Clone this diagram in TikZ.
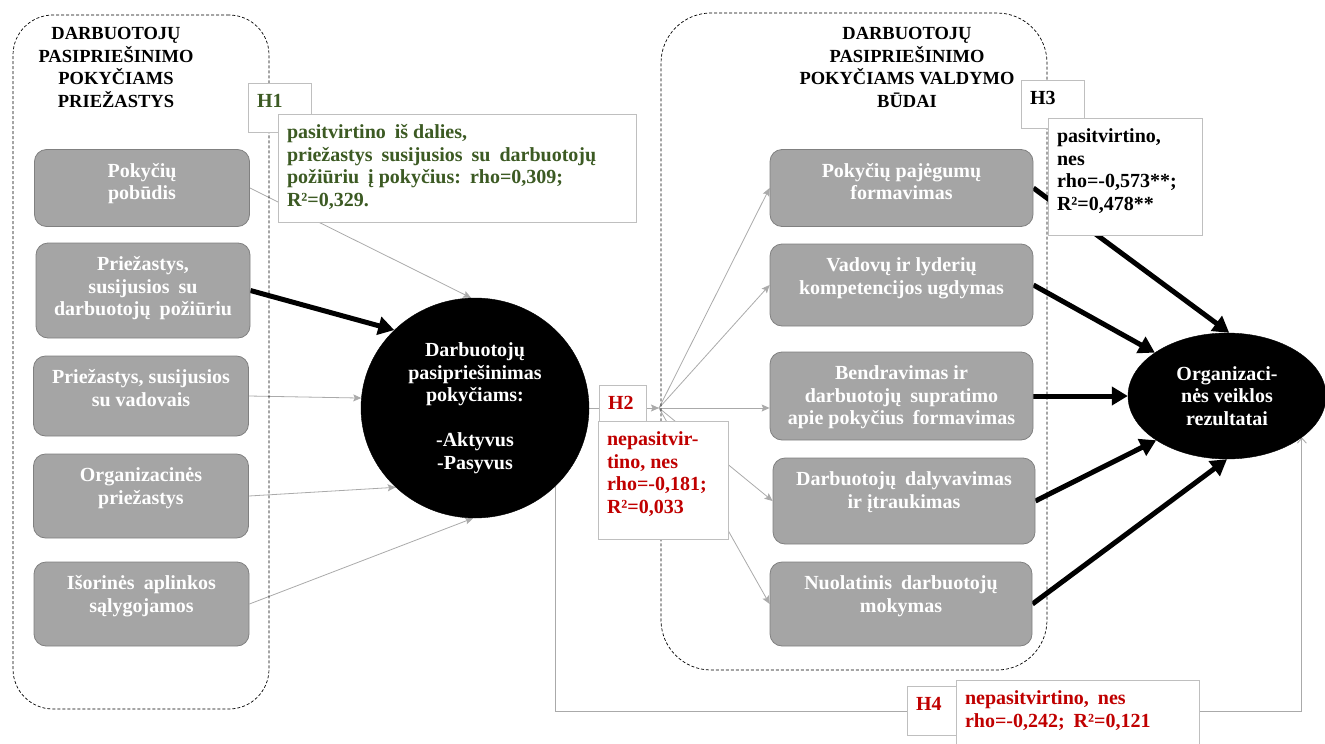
\documentclass[tikz,border=0pt]{standalone}
\usepackage{fontspec}
\setmainfont{Liberation Serif}
\usetikzlibrary{arrows.meta,shapes.geometric}

\pgfdeclarelayer{links}
\pgfsetlayers{links,main}

\definecolor{boxfill}{RGB}{165,165,165}
\definecolor{boxline}{RGB}{128,128,128}
\definecolor{conngray}{RGB}{170,170,170}
\definecolor{labline}{RGB}{191,191,191}
\definecolor{okgreen}{RGB}{60,90,35}
\definecolor{nored}{RGB}{192,0,0}

\newcommand\fsz{\fontsize{20pt}{22.5pt}\selectfont\bfseries}
\newcommand\tsz{\fontsize{18.5pt}{22.5pt}\selectfont\bfseries}

% centred lines, starting near the top of a gray box
\newcommand\boxlines[3]{\begin{minipage}[c][#2][t]{#1}\centering\vspace*{12pt}\strut#3\end{minipage}}
% left-aligned lines, starting near the top of a hypothesis label
\newcommand\lablines[3]{\begin{minipage}[c][#2][t]{#1}\raggedright\leftskip=9pt\vspace*{9pt}\strut#3\end{minipage}}
\newcommand\gap{\hspace{0.45em}}

\tikzset{
  zone/.style={draw=black, dashed, dash pattern=on 3pt off 2pt, line width=0.7pt, inner sep=0pt},
  heading/.style={font=\tsz, align=center, inner sep=0pt},
  gbox/.style={draw=boxline, fill=boxfill, line width=0.8pt, rounded corners=12pt, inner sep=0pt, text=white, font=\fsz},
  blob/.style={ellipse, fill=black, draw=black, inner sep=0pt, text=white, font=\fsz, align=center},
  lab/.style={draw=labline, fill=white, line width=0.9pt, inner sep=0pt, font=\fsz},
  feed/.style={draw=conngray, line width=0.8pt, -{Stealth[length=8pt,width=7pt,inset=1.5pt]}},
  strong/.style={draw=black, line width=5pt, -{Triangle[length=16pt,width=18pt]}},
  backlink/.style={draw=conngray, line width=0.9pt, -{Straight Barb[length=5pt,width=9pt]}},
}

\begin{document}
\begin{tikzpicture}[x=1pt,y=-1pt]
\useasboundingbox (0,0) rectangle (1325,744);

% dashed groups and their headings
\node[zone, rounded corners=40pt, minimum width=256pt, minimum height=694pt] (G1) at (141,362) {};
\node[zone, rounded corners=50pt, minimum width=386pt, minimum height=657pt] (G2) at (854,341.5) {};
\node[heading] (T1) at (116,67.5) {DARBUOTOJŲ\\PASIPRIEŠINIMO\\POKYČIAMS\\PRIEŽASTYS};
\node[heading] (T2) at (907,67.5) {DARBUOTOJŲ\\PASIPRIEŠINIMO\\POKYČIAMS VALDYMO\\BŪDAI};

% gray boxes: causes
\node[gbox, minimum width=215pt] (L1) at (142,188) {\boxlines{205pt}{77pt}{Pokyčių\\pobūdis}};
\node[gbox, minimum width=214pt] (L2) at (143,290.5) {\boxlines{205pt}{95pt}{Priežastys,\\susijusios\gap su\\darbuotojų\gap požiūriu}};
\node[gbox, minimum width=215pt] (L3) at (141,396) {\boxlines{205pt}{80pt}{Priežastys, susijusios\\su vadovais}};
\node[gbox, minimum width=215pt] (L4) at (141,496) {\boxlines{205pt}{84pt}{Organizacinės\\priežastys}};
\node[gbox, minimum width=215pt] (L5) at (141.5,604) {\boxlines{205pt}{84pt}{Išorinės\gap aplinkos\\sąlygojamos}};

% gray boxes: management methods
\node[gbox, minimum width=263pt] (R1) at (901.5,188) {\boxlines{253pt}{77pt}{Pokyčių pajėgumų\\formavimas}};
\node[gbox, minimum width=263pt] (R2) at (901.5,285) {\boxlines{253pt}{82pt}{Vadovų ir lyderių\\kompetencijos ugdymas}};
\node[gbox, minimum width=263pt] (R3) at (901.5,396) {\boxlines{253pt}{88pt}{Bendravimas ir\\darbuotojų\gap supratimo\\apie pokyčius\gap formavimas}};
\node[gbox, minimum width=262pt] (R4) at (904,501) {\boxlines{252pt}{86pt}{Darbuotojų\gap dalyvavimas\\ir įtraukimas}};
\node[gbox, minimum width=262pt] (R5) at (901,604) {\boxlines{252pt}{84pt}{Nuolatinis\gap darbuotojų\\mokymas}};

% ellipses
\node[blob, minimum width=228pt, minimum height=220pt] (E1) at (475,408) {Darbuotojų\\pasipriešinimas\\pokyčiams:\\[22.5pt]-Aktyvus\\-Pasyvus};
\node[blob, minimum width=198pt, minimum height=126pt] (E2) at (1227,396) {Organizaci-\\nės veiklos\\rezultatai};

% hypothesis labels
\node[lab, minimum width=63pt] (H1s) at (279.5,107.5) {\lablines{63pt}{49pt}{\color{okgreen}H1}};
\node[lab, minimum width=358pt] (H1b) at (457,168) {\lablines{358pt}{108pt}{\color{okgreen}pasitvirtino\gap iš dalies,\\priežastys\gap susijusios\gap su\gap darbuotojų\\požiūriu\gap į pokyčius:\gap rho=0,309;\\R²=0,329.}};
\node[lab, minimum width=47pt] (H2s) at (622.5,403) {\lablines{47pt}{36pt}{\color{nored}H2}};
\node[lab, minimum width=130pt] (H2b) at (663,480) {\lablines{130pt}{118pt}{\color{nored}nepasitvir-\\tino, nes\\rho=-0,181;\\R²=0,033}};
\node[lab, minimum width=63pt] (H3s) at (1052.5,104) {\lablines{63pt}{48pt}{H3}};
\node[lab, minimum width=154pt] (H3b) at (1125,176.5) {\lablines{154pt}{117pt}{pasitvirtino,\\nes\\rho=-0,573**;\\R²=0,478**}};
\node[lab, minimum width=49pt] (H4s) at (931.5,710.5) {\lablines{49pt}{49pt}{\color{nored}H4}};
\node[lab, minimum width=243pt] (H4b) at (1077.5,720) {\lablines{243pt}{80pt}{\color{nored}nepasitvirtino,\gap nes\\rho=-0,242;\gap R²=0,121}};

% connectors, kept underneath the boxes and labels
\coordinate (J) at (659,408);
\coordinate (K) at (555.5,711);
\begin{pgfonlayer}{links}
\draw[feed] (L1.east) -- (E1.92);
\draw[strong] (L2.east) -- (E1.136);
\draw[feed] (L3.east) -- (E1.175);
\draw[feed] (L4.east) -- (E1.225);
\draw[feed] (L5.east) -- (E1.269);

\draw[feed] (E1.east) -- (J);
\draw[feed] (J) -- (R1.west);
\draw[feed] (J) -- (R2.west);
\draw[feed] (J) -- (J -| R3.west);
\draw[feed] (J) -- (R4.west);
\draw[feed] (J) -- (R5.west);

\draw[strong] (R1.east) -- (E2.88);
\draw[strong] (R2.east) -- (E2.149);
\draw[strong] (R3.east) -- (E2.west);
\draw[strong] (R4.east) -- (E2.212);
\draw[strong] (R5.east) -- (E2.270);

\draw[backlink] (K |- E1.center) -- (K) -| (E2.-29);
\end{pgfonlayer}
\end{tikzpicture}
\end{document}
